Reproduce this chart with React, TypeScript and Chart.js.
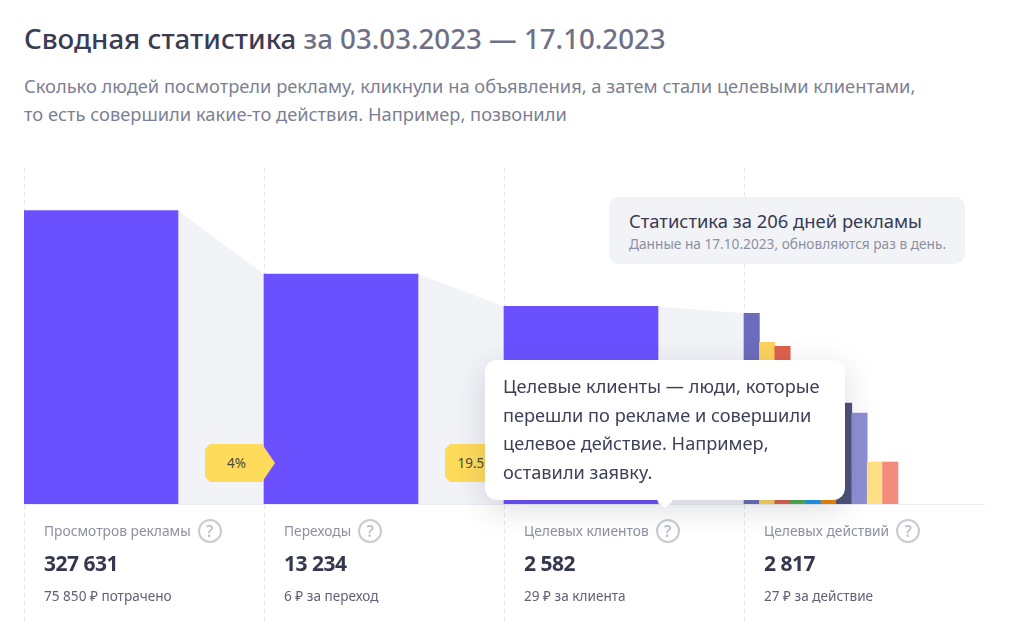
import React, { useEffect, useRef } from 'react';
import { Chart, registerables } from 'chart.js';

Chart.register(...registerables);

const FONT = '"Noto Sans", sans-serif';

// log scale: the funnel heights in the picture sit on about 46px per decade
const funnelValues = [327631, 13234, 2582];
const actionValues = [1820, 422, 344, 120, 60, 18, 19.5, 11.8, 1, 1];
const actionColors = ['#6c6cbc', '#fdd35c', '#e0604e', '#4caf50', '#2196e8', '#ee8400', '#4c5178', '#8e8ed4', '#ffdf85', '#f28c7c'];

const captions = ['Просмотров рекламы', 'Переходы', 'Целевых клиентов', 'Целевых действий'];
const totals = ['327 631', '13 234', '2 582', '2 817'];
const costs = ['75 850 ₽ потрачено', '6 ₽ за переход', '29 ₽ за клиента', '27 ₽ за действие'];

const BAR_SHARE = 154 / 240;

const text = (left: number, top: number, size: number, color: string, weight = 400): React.CSSProperties => ({
    position: 'absolute',
    left,
    top,
    fontSize: size,
    lineHeight: '1.2',
    color,
    fontWeight: weight,
    whiteSpace: 'nowrap',
});

const App: React.FC = () => {
    const canvasRef = useRef<HTMLCanvasElement>(null);

    useEffect(() => {
        if (!canvasRef.current) return;

        const connectorEnds = [funnelValues[1], funnelValues[2], actionValues[0]];
        const connectors = funnelValues.map((val, i) => ({
            type: 'line' as const,
            data: [
                { x: i + BAR_SHARE, y: val },
                { x: i + 1, y: connectorEnds[i] },
            ],
            fill: 'start',
            backgroundColor: '#f2f3f7',
            borderWidth: 0,
            pointRadius: 0,
            order: 3,
        }));

        const chart = new Chart(canvasRef.current, {
            type: 'bar',
            data: {
                datasets: [
                    {
                        data: funnelValues.map((val, i) => ({ x: i + BAR_SHARE / 2, y: val })),
                        backgroundColor: '#6a50ff',
                        barThickness: 154,
                        grouped: false,
                        order: 1,
                    },
                    {
                        data: actionValues.map((val, i) => ({ x: 3 + (BAR_SHARE * (i + 0.5)) / actionValues.length, y: val })),
                        backgroundColor: actionColors,
                        barThickness: 154 / actionValues.length,
                        grouped: false,
                        order: 2,
                    },
                    ...connectors,
                ] as any,
            },
            options: {
                animation: false,
                responsive: false,
                layout: { padding: { left: 24, right: 40, top: 8, bottom: 9 } },
                plugins: { legend: { display: false }, tooltip: { enabled: false } },
                scales: {
                    x: {
                        type: 'linear',
                        offset: false,
                        min: 0,
                        max: 4,
                        ticks: { display: false, stepSize: 1 },
                        grid: {
                            offset: false,
                            color: (ctx: any) => (ctx.tick && ctx.tick.value === 4 ? 'transparent' : '#e6e7ec'),
                            tickLength: 121,
                            tickBorderDash: [4, 4],
                        },
                        border: { color: '#eceef1', dash: [4, 4] },
                    },
                    y: {
                        type: 'logarithmic',
                        display: false,
                        min: 0.12,
                        max: 2800000,
                    },
                },
            },
        });

        return () => {
            chart.destroy();
        };
    }, []);

    return (
        <div style={{ position: 'absolute', left: 0, top: 0, width: 1024, height: 634, background: '#fff', overflow: 'hidden', fontFamily: FONT }}>
            <div style={text(24, 22, 27.7, '#3a3c54', 500)}>
                Сводная статистика <span style={{ color: '#6e7186' }}>за 03.03.2023 — 17.10.2023</span>
            </div>
            <div style={text(24, 75, 18.3, '#7c7f93')}>Сколько людей посмотрели рекламу, кликнули на объявления, а затем стали целевыми клиентами,</div>
            <div style={text(24, 103, 18.3, '#7c7f93')}>то есть совершили какие-то действия. Например, позвонили</div>

            <canvas ref={canvasRef} width={1024} height={474} style={{ position: 'absolute', left: 0, top: 160 }} />

            {captions.map((caption, i) => (
                <React.Fragment key={caption}>
                    <div style={{ ...text(44 + i * 240, 519, 13.8, '#8d90a2'), display: 'flex', alignItems: 'center', gap: 7 }}>
                        {caption}
                        <span style={{ width: 20, height: 20, border: '2px solid #c9cad3', borderRadius: '50%', color: '#c0c1cc', fontSize: 16, fontWeight: 600, lineHeight: '20px', textAlign: 'center' }}>?</span>
                    </div>
                    <div style={{ ...text(44 + i * 240, 551, 21, '#35374f', 700), letterSpacing: -0.5 }}>{totals[i]}</div>
                    <div style={text(44 + i * 240, 588, 13.6, '#5f6276')}>{costs[i]}</div>
                </React.Fragment>
            ))}

            {[{ left: 205, label: '4%' }, { left: 445, label: '19.5%' }].map((badge) => (
                <div
                    key={badge.label}
                    style={{
                        ...text(badge.left, 444, 13.5, '#4d4a3a'),
                        width: 70,
                        height: 38,
                        lineHeight: '38px',
                        background: '#ffdb5c',
                        clipPath: 'polygon(5px 0, 57px 0, 70px 19px, 57px 38px, 5px 38px, 0 33px, 0 5px)',
                    }}
                >
                    <span style={{ display: 'block', width: 63, textAlign: 'center' }}>{badge.label}</span>
                </div>
            ))}

            <div style={{ position: 'absolute', left: 609, top: 197, width: 356, height: 67, background: '#f2f3f7', borderRadius: 10 }} />
            <div style={text(629, 210, 18.4, '#383a52')}>Статистика за 206 дней рекламы</div>
            <div style={text(629, 236, 13.7, '#8d90a2')}>Данные на 17.10.2023, обновляются раз в день.</div>

            <div style={{ position: 'absolute', left: 485, top: 360, width: 360, height: 140, background: '#fff', borderRadius: 12, boxShadow: '0 8px 32px rgba(40,42,70,0.16)' }} />
            <div style={{ position: 'absolute', left: 659, top: 494, width: 12, height: 12, background: '#fff', transform: 'rotate(45deg)', borderRadius: 2 }} />
            {['Целевые клиенты — люди, которые', 'перешли по рекламе и совершили', 'целевое действие. Например,', 'оставили заявку.'].map((line, i) => (
                <div key={line} style={text(503, 376 + i * 28.6, 18.2, '#3e4058')}>{line}</div>
            ))}
        </div>
    );
};

export default App;
